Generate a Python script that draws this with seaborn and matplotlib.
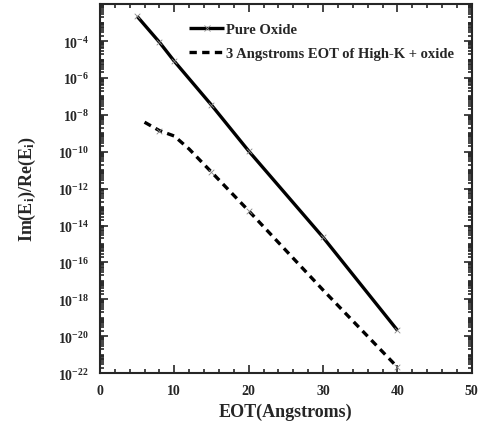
import numpy as np
import pandas as pd
import matplotlib
matplotlib.use("Agg")
import matplotlib.pyplot as plt
import matplotlib.ticker as mticker
import seaborn as sns

# Data
eot_pure = [5, 8, 10, 15, 20, 30, 40]
ratio_pure = [2.2e-3, 8.7e-5, 8.1e-6, 3.4e-8, 1.1e-10, 2.3e-15, 2.1e-20]

eot_hk = [6, 8, 10, 12, 15, 20, 30, 40]
ratio_hk = [4.0e-9, 1.4e-9, 7.1e-10, 1.4e-10, 7.9e-12, 6.3e-14, 3.2e-18, 2.1e-22]
eot_hk_marks = [8, 15, 20, 40]

labels = ["Pure Oxide", "3 Angstroms EOT of High-K + oxide"]
y_tick_exps = list(range(-22, -3, 2))

sns.set_style("ticks")
plt.rcParams['font.family'] = ['Liberation Serif', 'DejaVu Serif']
plt.rcParams['font.weight'] = 'bold'
plt.rcParams['mathtext.fontset'] = 'custom'
plt.rcParams['mathtext.rm'] = 'Liberation Serif:bold'
plt.rcParams['mathtext.bf'] = 'Liberation Serif:bold'
plt.rcParams['mathtext.it'] = 'Liberation Serif:bold:italic'

df = pd.concat([
    pd.DataFrame({'EOT': eot_pure, 'ratio': ratio_pure, 'series': labels[0]}),
    pd.DataFrame({'EOT': eot_hk, 'ratio': ratio_hk, 'series': labels[1]}),
])

fig = plt.figure(figsize=(4.78, 4.31), dpi=100)
ax = fig.add_axes([0.209, 0.132, 0.778, 0.856])

sns.lineplot(data=df, x='EOT', y='ratio', hue='series', style='series',
             palette=['black', 'black'], dashes=[(1, 0), (2.2, 1.6)],
             linewidth=2.4, ax=ax, legend=True)

# small grey cross markers sitting on the curves
mk = df[(df['series'] == labels[0]) |
        (df['EOT'].isin(eot_hk_marks) & (df['series'] == labels[1]))]
sns.scatterplot(data=mk, x='EOT', y='ratio', marker='x', s=16, color='#888888',
                linewidth=0.6, ax=ax, legend=False, zorder=3)

ax.set_yscale('log')
ax.set_xlim(0, 50)
ax.set_ylim(1e-22, 1e-2)

ax.xaxis.set_major_locator(mticker.MultipleLocator(10))
ax.xaxis.set_minor_locator(mticker.MultipleLocator(2))
ax.yaxis.set_major_locator(mticker.FixedLocator([10.0 ** e for e in y_tick_exps]))
ax.yaxis.set_major_formatter(mticker.FuncFormatter(
    lambda v, p: r'$\mathbf{10^{%d}}$' % int(round(np.log10(v)))))
ax.yaxis.set_minor_locator(mticker.LogLocator(base=10, subs=np.arange(1, 10), numticks=100))
ax.yaxis.set_minor_formatter(mticker.NullFormatter())

ax.tick_params(which='both', direction='in', top=True, right=True, width=1.2)
ax.tick_params(which='major', length=6, labelsize=10, pad=8)
ax.tick_params(which='minor', length=3)
for lab in ax.get_xticklabels():
    lab.set_fontweight('bold')
for s in ax.spines.values():
    s.set_linewidth(1.5)

ax.set_xlabel('EOT(Angstroms)', fontsize=13, fontweight='bold', labelpad=4)
ax.set_ylabel(r'$\mathbf{Im(E_i)/Re(E_i)}$', fontsize=13, labelpad=14)

handles, _ = ax.get_legend_handles_labels()
handles[0].set_marker('x')
handles[0].set_markersize(4)
handles[0].set_markeredgecolor('#888888')
handles[0].set_markeredgewidth(0.6)
leg = ax.legend(handles, labels, loc='upper left', bbox_to_anchor=(0.205, 0.985),
                frameon=False, prop={'weight': 'bold', 'size': 10.5},
                handlelength=2.4, handletextpad=0.15, labelspacing=0.75)

plt.savefig('out.png', dpi=100)
